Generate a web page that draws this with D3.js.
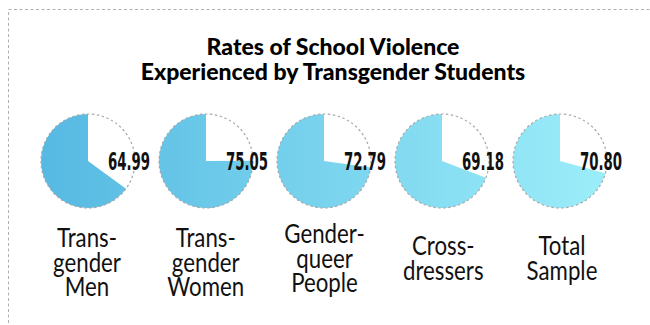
<!DOCTYPE html>
<html>
<head>
<meta charset="utf-8">
<script src="https://cdn.jsdelivr.net/npm/d3@7"></script>
<style>
  html, body { margin: 0; padding: 0; background: #fff; }
  svg { display: block; }
</style>
</head>
<body>
<svg id="chart" width="650" height="325"></svg>
<script>
// Percent of students in each group reporting school violence
const groups = [
  ["Trans-", "gender", "Men"],
  ["Trans-", "gender", "Women"],
  ["Gender-", "queer", "People"],
  ["Cross-", "dressers"],
  ["Total", "Sample"]
];
const rates = [64.99, 75.05, 72.79, 69.18, 70.80];
const rateLabels = ["64.99", "75.05", "72.79", "69.18", "70.80"];
const titleLines = ["Rates of School Violence", "Experienced by Transgender Students"];

const svg = d3.select("#chart");

// Outer dashed frame
svg.append("rect")
  .attr("x", 8.5).attr("y", 9.5)
  .attr("width", 700).attr("height", 400)
  .attr("fill", "none")
  .attr("stroke", "#b0b0b0")
  .attr("stroke-width", 1)
  .attr("stroke-dasharray", "3,2.5");

// Title
svg.append("text")
  .attr("x", 333).attr("y", 55)
  .attr("text-anchor", "middle")
  .attr("font-family", "Lato, 'Open Sans', sans-serif")
  .attr("font-weight", 900)
  .attr("font-size", 23)
  .attr("fill", "#000")
  .selectAll("tspan")
  .data(titleLines)
  .join("tspan")
  .attr("x", 333)
  .attr("dy", (d, i) => i === 0 ? 0 : 24.5)
  .text(d => d);

// Horizontal layout of the five pies and their names
const radius = 47;
const cy = 161;
const x = d3.scalePoint()
  .domain(d3.range(rates.length))
  .range([88, 560]);
const xName = d3.scalePoint()
  .domain(d3.range(rates.length))
  .range([87, 562]);

// One gradient spanning the whole row, deeper blue on the left
const defs = svg.append("defs");
const grad = defs.append("linearGradient")
  .attr("id", "rowFill")
  .attr("gradientUnits", "userSpaceOnUse")
  .attr("x1", 41).attr("y1", 0)
  .attr("x2", 603).attr("y2", 0);
grad.append("stop").attr("offset", "0%").attr("stop-color", "#56b9e2");
grad.append("stop").attr("offset", "100%").attr("stop-color", "#9cedf9");
rates.forEach((d, i) => {
  defs.append("linearGradient")
    .attr("id", `rowFill${i}`)
    .attr("href", "#rowFill")
    .attr("gradientTransform", `translate(${-x(i)},0)`);
});

const pie = d3.pie().sort(null).value(d => d);
const arc = d3.arc().innerRadius(0).outerRadius(radius);

const pieLayer = svg.append("g");
const textLayer = svg.append("g");

const cells = pieLayer.selectAll("g.cell")
  .data(rates)
  .join("g")
  .attr("class", "cell")
  .attr("transform", (d, i) => `translate(${x(i)},${cy})`);

// White wedge for the remainder, coloured wedge for the rate
cells.each(function(d, i) {
  d3.select(this).selectAll("path")
    .data(pie([100 - d, d]))
    .join("path")
    .attr("d", arc)
    .attr("fill", (p, j) => j === 0 ? "#ffffff" : `url(#rowFill${i})`);
});

// Dashed outline of the full circle
cells.append("circle")
  .attr("r", radius)
  .attr("fill", "none")
  .attr("stroke", "#a8a8a8")
  .attr("stroke-width", 1.2)
  .attr("stroke-dasharray", "2.5,2.5");

// Rate values, on top of every pie
textLayer.selectAll("text.rate")
  .data(rates)
  .join("text")
  .attr("class", "rate")
  .attr("x", (d, i) => x(i) + 20)
  .attr("y", cy + 9)
  .attr("font-family", "'DejaVu Sans Condensed', 'Liberation Sans Narrow', sans-serif")
  .attr("font-stretch", "condensed")
  .attr("font-weight", 700)
  .attr("font-size", 24)
  .attr("textLength", 42)
  .attr("lengthAdjust", "spacingAndGlyphs")
  .attr("fill", "#111")
  .text((d, i) => rateLabels[i]);

// Group names below each pie
textLayer.selectAll("g.name")
  .data(rates)
  .join("g")
  .attr("class", "name")
  .attr("transform", (d, i) => {
    const n = groups[i].length;
    const top = n === 2 ? 255 : (i === 2 ? 243 : 247);
    return `translate(${xName(i)},${top})`;
  })
  .append("text")
  .attr("text-anchor", "middle")
  .attr("transform", "scale(0.84,1)")
  .attr("font-family", "Lato, 'Open Sans', sans-serif")
  .attr("font-weight", 400)
  .attr("font-size", 26.5)
  .attr("fill", "#111")
  .selectAll("tspan")
  .data((d, i) => groups[i])
  .join("tspan")
  .attr("x", 0)
  .attr("dy", (d, j) => j === 0 ? 0 : 24.5)
  .text(d => d);
</script>
</body>
</html>
